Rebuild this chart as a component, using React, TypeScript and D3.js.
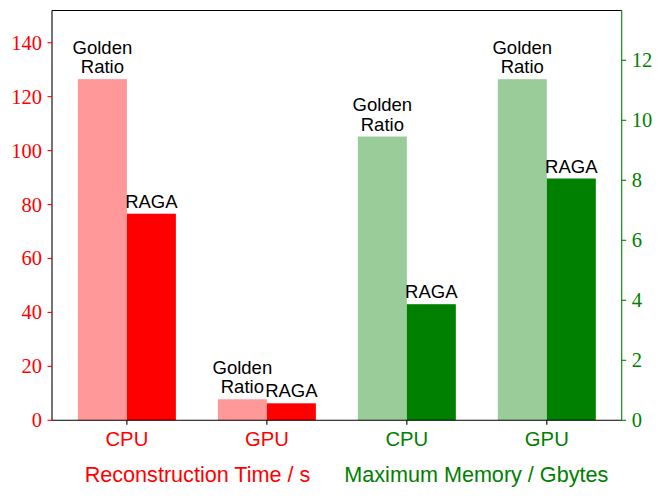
import React from "react";
import * as d3 from "d3";

const categories = ["CPU", "GPU", "CPU", "GPU"];
const groupAxis = ["left", "left", "right", "right"];
const goldenValues = [126.5, 7.8, 9.46, 11.37];
const ragaValues = [76.6, 6.3, 3.87, 8.06];
const leftTicks = [0, 20, 40, 60, 80, 100, 120, 140];
const rightTicks = [0, 2, 4, 6, 8, 10, 12];
const leftLabel = "Reconstruction Time / s";
const rightLabel = "Maximum Memory / Gbytes";

const W = 664;
const H = 498;
const M = { left: 52, right: 621.7, top: 10.5, bottom: 420.3 };
const RED = "#ff0000";
const RED_L = "#ff9999";
const GREEN = "#008000";
const GREEN_L = "#99cc99";
const SANS = "'Liberation Sans', Arial, sans-serif";
const SERIF = "'Liberation Serif', 'Times New Roman', serif";

export default function App() {
  const barW = 0.35;
  const x = d3.scaleLinear().domain([-0.535, 3.535]).range([M.left, M.right]);
  const yL = d3.scaleLinear().domain([0, 151.95]).range([M.bottom, M.top]);
  const yR = d3.scaleLinear().domain([0, 13.66]).range([M.bottom, M.top]);
  const bw = x(barW) - x(0);

  const bars: any[] = [];
  const labels: any[] = [];
  categories.forEach((c, i) => {
    const y = groupAxis[i] === "left" ? yL : yR;
    const light = groupAxis[i] === "left" ? RED_L : GREEN_L;
    const dark = groupAxis[i] === "left" ? RED : GREEN;
    const g = goldenValues[i];
    const r = ragaValues[i];
    const gx = x(i - barW / 2);
    const rx = x(i + barW / 2);
    bars.push(
      <rect key={"g" + i} x={x(i - barW)} y={y(g)} width={bw} height={y(0) - y(g)} fill={light} />
    );
    bars.push(
      <rect key={"r" + i} x={x(i)} y={y(r)} width={bw} height={y(0) - y(r)} fill={dark} />
    );
    labels.push(
      <text key={"gl" + i} x={gx} y={y(g) - 6} textAnchor="middle" fontFamily={SANS} fontSize={18.5} fill="#000">
        <tspan x={gx} dy={-19.5}>Golden</tspan>
        <tspan x={gx} dy={19.5}>Ratio</tspan>
      </text>
    );
    labels.push(
      <text key={"rl" + i} x={rx} y={y(r) - 6} textAnchor="middle" fontFamily={SANS} fontSize={18.5} fill="#000">
        RAGA
      </text>
    );
  });

  return (
    <svg width={W} height={H} style={{ position: "absolute", left: 0, top: 0, background: "#fff" }}>
      <rect x={0} y={0} width={W} height={H} fill="#fff" />
      {bars}
      {labels}
      {/* spines */}
      <line x1={M.left} x2={M.right} y1={M.top} y2={M.top} stroke="#000" strokeWidth={1.1} />
      <line x1={M.left} x2={M.right} y1={M.bottom} y2={M.bottom} stroke="#000" strokeWidth={1.1} />
      <line x1={M.left} x2={M.left} y1={M.top} y2={M.bottom} stroke="#000" strokeWidth={1.1} />
      <line x1={M.right} x2={M.right} y1={M.top} y2={M.bottom} stroke={GREEN} strokeWidth={1.1} />
      {/* left ticks */}
      {leftTicks.map((t) => (
        <g key={"lt" + t}>
          <line x1={M.left - 4.5} x2={M.left} y1={yL(t)} y2={yL(t)} stroke={RED} strokeWidth={1.1} />
          <text x={M.left - 10} y={yL(t) + 7} textAnchor="end" fontFamily={SERIF} fontSize={20.5} fill={RED}>
            {t}
          </text>
        </g>
      ))}
      {/* right ticks */}
      {rightTicks.map((t) => (
        <g key={"rt" + t}>
          <line x1={M.right} x2={M.right + 4.5} y1={yR(t)} y2={yR(t)} stroke={GREEN} strokeWidth={1.1} />
          <text x={M.right + 10} y={yR(t) + 7} textAnchor="start" fontFamily={SERIF} fontSize={20.5} fill={GREEN}>
            {t}
          </text>
        </g>
      ))}
      {/* bottom ticks */}
      {categories.map((c, i) => (
        <g key={"bt" + i}>
          <line x1={x(i)} x2={x(i)} y1={M.bottom} y2={M.bottom + 4.5} stroke="#000" strokeWidth={1.1} />
          <text x={x(i)} y={446} textAnchor="middle" fontFamily={SANS} fontSize={20.3} fill={groupAxis[i] === "left" ? RED : GREEN}>
            {c}
          </text>
        </g>
      ))}
      <text x={197.5} y={482} textAnchor="middle" fontFamily={SANS} fontSize={21.6} fill={RED}>
        {leftLabel}
      </text>
      <text x={476.3} y={482} textAnchor="middle" fontFamily={SANS} fontSize={21.6} fill={GREEN}>
        {rightLabel}
      </text>
    </svg>
  );
}
